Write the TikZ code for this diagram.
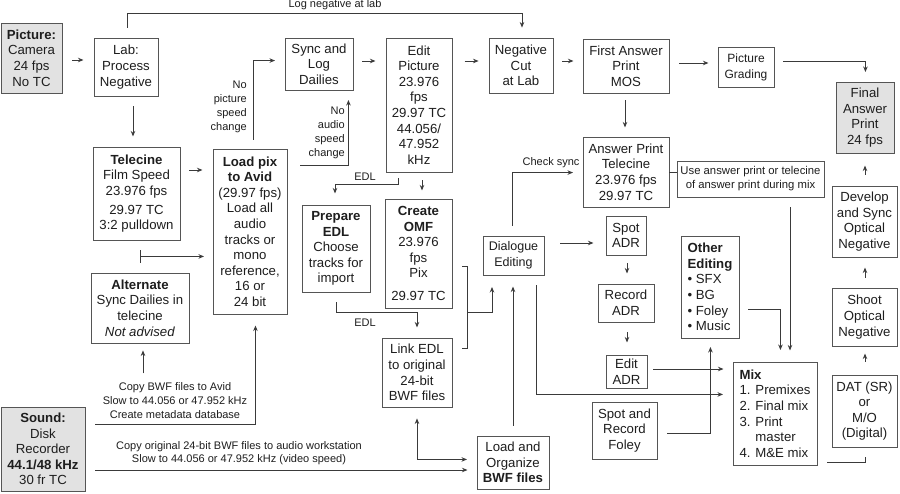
\documentclass[tikz,border=0pt]{standalone}
\usepackage{fontspec}
\setmainfont{Liberation Sans}
\usetikzlibrary{arrows.meta}
\definecolor{ln}{HTML}{3A3A3A}
\definecolor{bx}{HTML}{555555}
\definecolor{fillg}{HTML}{E2E2E2}
\definecolor{tx}{HTML}{1E1E1E}
\begin{document}
\begin{tikzpicture}[x=1pt,y=-1pt,
  box/.style={draw=bx, line width=0.9pt, fill=white, inner sep=0pt, align=center, text=tx,
              font=\fontsize{13.2}{15.6}\selectfont},
  gbox/.style={box, fill=fillg},
  sz/.style 2 args={minimum width=#1pt, minimum height=#2pt},
  lbl/.style={inner sep=0pt, text=tx, font=\fontsize{11}{14}\selectfont, align=center},
  conn/.style={draw=ln, line width=0.9pt},
  arr/.style={conn, -{Stealth[length=5.5pt,width=4.5pt]}},
]
\fill[white] (0,0) rectangle (900,493);
\useasboundingbox (0,0) rectangle (900,493);

% ---- boxes ----
\node[gbox, sz={61}{70}] (pic) at (31.5,58) {\textbf{Picture:}\\Camera\\24 fps\\No TC};
\node[box, sz={64}{58}] (lab) at (126,67) {Lab:\\Process\\Negative};
\node[box, sz={68}{52}] (sync) at (319,64) {Sync and\\Log\\Dailies};
\node[box, sz={66}{134}] (edit) at (419,105) {Edit\\Picture\\23.976\\fps\\29.97 TC\\44.056/\\47.952\\kHz};
\node[box, sz={64}{55}] (neg) at (521,65.5) {Negative\\Cut\\at Lab};
\node[box, sz={86}{54}] (fap) at (626,66) {First Answer\\Print\\MOS};
\node[box, sz={56}{40}, font=\fontsize{12}{16}\selectfont] (grade) at (746,67) {Picture\\Grading};
\node[gbox, sz={58}{71}] (final) at (865,117.5) {Final\\Answer\\Print\\24 fps};
\node[box, sz={87}{93}] (tele) at (136.5,193.5) {\textbf{Telecine}\\Film Speed\\23.976 fps\\[3pt]29.97 TC\\3:2 pulldown};
\node[box, sz={74}{165}] (load) at (250,231.5) {\textbf{Load pix}\\\textbf{to Avid}\\(29.97 fps)\\Load all\\audio\\tracks or\\mono\\reference,\\16 or\\24 bit};
\node[box, sz={98}{70}] (alt) at (140,308) {\textbf{Alternate}\\Sync Dailies in\\telecine\\\textit{Not advised}};
\node[box, sz={68}{87}] (prep) at (336,248.5) {\textbf{Prepare}\\\textbf{EDL}\\Choose\\tracks for\\import};
\node[box, sz={67}{109}] (omf) at (418.5,253.5) {\textbf{Create}\\\textbf{OMF}\\23.976\\fps\\Pix\\[7pt]29.97 TC};
\node[box, sz={70}{69}] (link) at (417,372.5) {Link EDL\\to original\\24-bit\\BWF files};
\node[box, sz={72}{53}] (bwf) at (513,462.5) {Load and\\Organize\\\textbf{BWF files}};
\node[box, sz={61}{39}, font=\fontsize{12.5}{16}\selectfont] (dial) at (513.5,255.5) {Dialogue\\Editing};
\node[box, sz={86}{70}] (apt) at (626,172) {Answer Print\\Telecine\\23.976 fps\\29.97 TC};
\node[box, sz={147}{36}, font=\fontsize{11.3}{14}\selectfont] (use) at (750.5,179) {Use answer print or telecine\\of answer print during mix};
\node[box, sz={40}{39}] (spot) at (626,235.5) {Spot\\ADR};
\node[box, sz={56}{38}] (rec) at (626,303) {Record\\ADR};
\node[box, sz={41}{33}] (eadr) at (626.5,371.5) {Edit\\ADR};
\node[box, sz={65}{57}] (foley) at (624.5,430.5) {Spot and\\Record\\Foley};
\node[box, sz={58}{102}, align=left] (other) at (710,287) {\textbf{Other}\\\textbf{Editing}\\• SFX\\• BG\\• Foley\\• Music};
\node[box, sz={84}{103}, align=left] (mix) at (775,413.5) {\textbf{Mix}\\1. Premixes\\2. Final mix\\3. Print\\\phantom{3. }master\\4. M\&E mix};
\node[box, sz={65}{71}] (dev) at (864.5,221.5) {Develop\\and Sync\\Optical\\Negative};
\node[box, sz={65}{58}] (shoot) at (864.5,317) {Shoot\\Optical\\Negative};
\node[box, sz={65}{72}] (dat) at (864.5,411) {DAT (SR)\\or\\M/O\\(Digital)};
\node[gbox, sz={84}{84}] (snd) at (43,449) {\textbf{Sound:}\\Disk\\Recorder\\\textbf{44.1/48 kHz}\\30 fr TC};

% ---- labels ----
\node[lbl] (lLog) at (335,5) {Log negative at lab};
\node[lbl, align=right, anchor=east] (lNoPic) at (247,107) {No\\picture\\speed\\change};
\node[lbl, align=right, anchor=east] (lNoAud) at (345,133) {No\\audio\\speed\\change};
\node[lbl] (lEdl1) at (365,177) {EDL};
\node[lbl] (lEdl2) at (365,323) {EDL};
\node[lbl] (lChk) at (551,163) {Check sync};
\node[lbl] (lCopy) at (175,401) {Copy BWF files to Avid\\Slow to 44.056 or 47.952 kHz\\Create metadata database};
\node[lbl, font=\fontsize{11}{13}\selectfont] (lOrig) at (239,453.5) {Copy original 24-bit BWF files to audio workstation\\Slow to 44.056 or 47.952 kHz (video speed)};

% ---- connectors ----
\draw[arr] (pic.east) ++(10,2) -- ++(11,0);
\draw[arr] (lab.north) ++(1,-10) -- ++(0,-14) -- ++(395,0) -- ++(0,14);
\draw[arr] (lab.south) ++(7,10) -- ++(0,30);
\draw[arr] (sync.east) ++(9,-3) -- ++(13,0);
\draw[arr] (neg.west) ++(-24,-4.5) -- ++(14,0);
\draw[arr] (neg.east) ++(9,-4.5) -- ++(11,0);
\draw[arr] (fap.east) ++(10,-3) -- ++(29,0);
\draw[arr] (grade.east) ++(9,-6) -| ++(82,11);
\draw[arr] (fap.south) ++(-1,7) -- ++(0,27);
\draw[conn] (apt.east) -- (apt.east -| use.west);
\draw[arr] (use.south) ++(39.5,10) -- ++(0,143);
\draw[arr] (other.east) ++(9,22) -| ++(32,41);
\draw[arr] (dev.north) ++(0.5,-11) -- ++(0,-9);
\draw[arr] (shoot.north) ++(0.5,-10) -- ++(0,-10);
\draw[arr] (dat.north) ++(0.5,-13) -- ++(0,-8);
\draw[conn] (mix.south east) ++(10,-3) -| ++(38,-5);
\draw[arr] (tele.east) ++(9,-23.5) -- ++(13,0);
\draw[arr] (load.north) ++(3,-9) |- ++(22,-79);
\draw[arr] (load.east) ++(13,-66.5) -| ++(48,-65);
\draw[arr] (edit.south) ++(-21,6) -- ++(0,6) -| ++(-63,9);
\draw[arr] (edit.south) ++(3,8) -- ++(0,10);
\draw[arr] (prep.south) ++(0,10) -- ++(0,10) -| ++(81,15);
\draw[conn] (omf.east) ++(10,12.5) -- ++(5,0) -- ++(0,82) -- ++(-5,0);
\coordinate (bm) at (467,312);
\draw[arr] (bm) -| ++(25,-25);
\draw[conn, {Stealth[length=5.5pt,width=4.5pt]}-{Stealth[length=5.5pt,width=4.5pt]}] (link.south) ++(0,11) |- ++(50,41);
\draw[arr] (snd.east) ++(10,21) -- ++(372,0);
\draw[arr] (snd.north east) ++(10,18) -| ++(160,-99);
\draw[arr] (alt.south) ++(3,30) -- ++(0,-23);
\draw[conn, {Bar[width=13pt]}-{Stealth[length=5.5pt,width=4.5pt]}] (tele.south) ++(3.5,16) -- ++(64,0);
\draw[arr] (dial.north) ++(-1.5,-10) |- ++(61,-53);
\draw[arr] (dial.east) ++(16,-12.5) -- ++(33,0);
\draw[arr] (spot.south) ++(1,8) -- ++(0,10);
\draw[arr] (rec.south) ++(1,10) -- ++(0,10);
\draw[arr] (bwf.north) ++(0,-10) -- ++(0,-139);
\draw[arr] (dial.south) ++(22.5,10) |- ++(187,109);
\draw[arr] (eadr.east) ++(6,-2.5) -- ++(70,0);
\draw[arr] (foley.east) ++(10,2.5) -| ++(43,-86);
\end{tikzpicture}
\end{document}
